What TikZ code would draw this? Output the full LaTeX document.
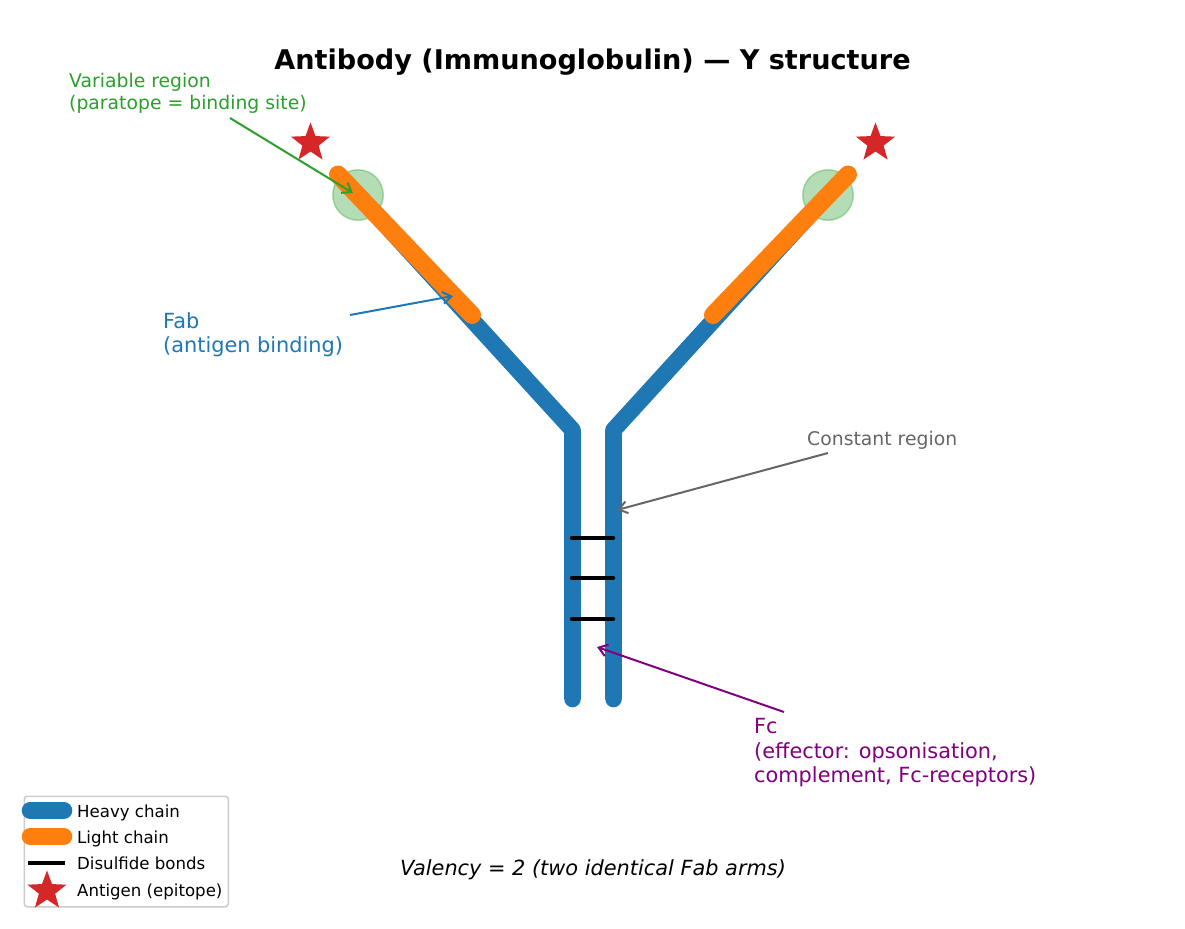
\documentclass[tikz,border=0pt]{standalone}
\usepackage{fontspec}
\setmainfont{DejaVu Sans}
\usetikzlibrary{arrows.meta,shapes.geometric}
\definecolor{heavy}{HTML}{1F77B4}
\definecolor{lightc}{HTML}{FF7F0E}
\definecolor{vargreen}{HTML}{2CA02C}
\definecolor{antired}{HTML}{D62728}
\definecolor{constgray}{HTML}{666666}
\definecolor{fcpurple}{HTML}{800080}
\newcommand{\fs}[1]{\fontsize{#1bp}{1.17\dimexpr #1bp\relax}\selectfont}
\tikzset{
  x=1bp,y=-1bp,
  heavyline/.style={draw=heavy,line width=16.6bp,line cap=round,line join=round},
  lightline/.style={draw=lightc,line width=18bp,line cap=round},
  bond/.style={draw=black,line width=4.5bp,line cap=round},
  vregion/.style={circle,minimum size=50.5bp,inner sep=0pt,fill=vargreen,fill opacity=.35,draw=vargreen,draw opacity=.35,line width=1.5bp},
  antigen/.style={star,star points=5,star point ratio=2.4,minimum size=#1,inner sep=0pt,fill=antired},
  lbl/.style={inner sep=0pt,align=left,anchor=north west,font=\fs{18.8}},
  callout/.style={-{Straight Barb[length=8.5bp,width=12bp]},line width=2bp},
}
\begin{document}
\begin{tikzpicture}
\useasboundingbox (0,0) rectangle (1185,929);
\fill[white] (0,0) rectangle (1185,929);

% Junction points of the two heavy chains
\coordinate (lfoot) at (572.5,699);
\coordinate (lhinge) at (572.5,430);
\coordinate (larm) at (358,195);
\coordinate (rfoot) at (613.5,699);
\coordinate (rhinge) at (613.5,430);
\coordinate (rarm) at (828,195);
\coordinate (llight0) at (338,174.5);
\coordinate (llight1) at (472,315);
\coordinate (rlight0) at (848,174.5);
\coordinate (rlight1) at (713,315);

% Variable-domain discs
\node[vregion] (lvar) at (larm) {};
\node[vregion] (rvar) at (rarm) {};

% Heavy and light chains
\draw[heavyline] (lfoot) -- (lhinge) -- (larm);
\draw[heavyline] (rfoot) -- (rhinge) -- (rarm);
\draw[lightline] (llight0) -- (llight1);
\draw[lightline] (rlight0) -- (rlight1);

% Disulfide bonds across the stem
\foreach \n/\y in {a/538,b/578,c/619}{
  \coordinate (bl\n) at (572,\y);
  \coordinate (br\n) at (613,\y);
  \draw[bond] (bl\n) -- (br\n);
}

% Antigens
\node[antigen=41bp] (lstar) at (310.5,143) {};
\node[antigen=41bp] (rstar) at (875.5,143) {};

% Title and footer
\node[inner sep=0pt,font=\fs{27.1}\bfseries] (title) at (592.5,62.5) {Antibody (Immunoglobulin) — Y structure};
\node[inner sep=0pt,font=\fs{20.85}\itshape] (valency) at (593,870) {Valency = 2 (two identical Fab arms)};

% Callouts
\node[lbl,text=vargreen] (tvar) at (69,73) {Variable region\\(paratope = binding site)};
\coordinate (tvarend) at (230,118);
\coordinate (tvartip) at (353,193);
\draw[callout,draw=vargreen] (tvarend) -- (tvartip);

\node[lbl,text=heavy,font=\fs{20.85}] (tfab) at (163,312) {Fab\\(antigen binding)};
\coordinate (tfabend) at (350,315);
\coordinate (tfabtip) at (453,296);
\draw[callout,draw=heavy] (tfabend) -- (tfabtip);

\node[lbl,text=constgray] (tconst) at (807,431.5) {Constant region};
\coordinate (tconstend) at (828,453);
\coordinate (tconsttip) at (617,510);
\draw[callout,draw=constgray] (tconstend) -- (tconsttip);

\node[lbl,text=fcpurple,font=\fs{20.85}] (tfc) at (754,718.5) {Fc\\(effector: opsonisation,\\complement, Fc-receptors)};
\coordinate (tfcend) at (784,712);
\coordinate (tfctip) at (597,647);
\draw[callout,draw=fcpurple] (tfcend) -- (tfctip);

% Legend
\node[draw=black!20,line width=1.5bp,rounded corners=3bp,fill=white,minimum width=204bp,minimum height=110.5bp,inner sep=0pt,anchor=north west] (legend) at (23.5,795.5) {};
\coordinate (kh0) at (30,810.5); \coordinate (kh1) at (64,810.5);
\coordinate (kl0) at (30,836.5); \coordinate (kl1) at (64,836.5);
\coordinate (kb0) at (28,863); \coordinate (kb1) at (65,863);
\draw[heavyline] (kh0) -- (kh1);
\draw[draw=lightc,line width=16.6bp,line cap=round] (kl0) -- (kl1);
\draw[draw=black,line width=4.5bp] (kb0) -- (kb1);
\node[antigen=41bp] (kstar) at (47,891) {};
\tikzset{keytext/.style={inner sep=0pt,anchor=base west,font=\fs{16.6}}}
\node[keytext] (th) at (77,817) {Heavy chain};
\node[keytext] (tl) at (77,843) {Light chain};
\node[keytext] (tb) at (77,869) {Disulfide bonds};
\node[keytext] (ta) at (77,896) {Antigen (epitope)};
\end{tikzpicture}
\end{document}
